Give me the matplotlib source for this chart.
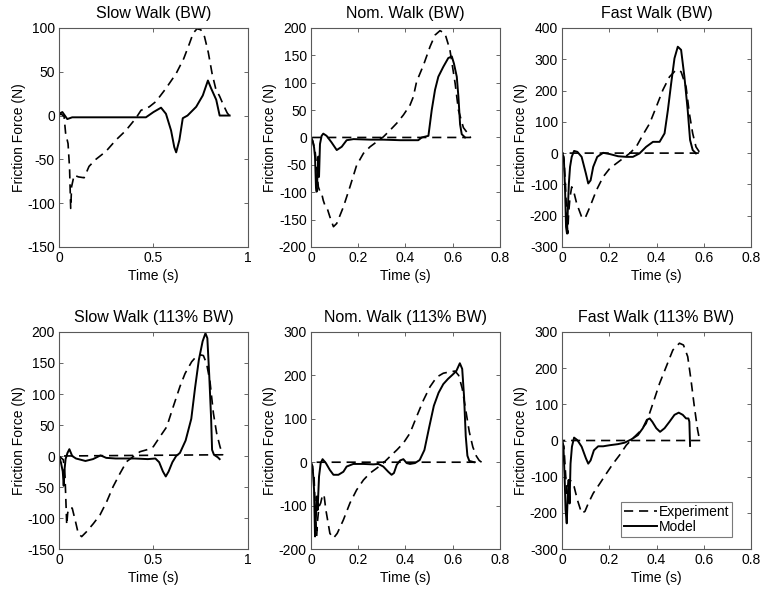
import numpy as np
import matplotlib.pyplot as plt
from matplotlib.ticker import FormatStrFormatter

plt.rcParams['font.family'] = ['Liberation Sans', 'DejaVu Sans']
plt.rcParams['font.size'] = 10

# ------------------------------------------------------------------------------
# Data (time in s, friction force in N)
# ------------------------------------------------------------------------------

# Slow Walk (BW)
slow_bw_exp_t = [0.0, 0.01, 0.027, 0.035, 0.048, 0.056, 0.062, 0.067, 0.08, 0.103, 0.133, 0.159,
                 0.195, 0.248, 0.301, 0.354, 0.407, 0.434, 0.478, 0.513, 0.566, 0.62, 0.66, 0.69,
                 0.71, 0.73, 0.75, 0.77, 0.79, 0.81, 0.83, 0.85, 0.87, 0.89, 0.905]
slow_bw_exp_f = [0, 2, -1, -20, -32, -60, -106, -81, -68, -70, -71, -58,
                 -50, -41, -28, -17, -3, 6, 10, 16, 31, 48, 65, 82,
                 94, 99, 98, 90, 72, 48, 30, 22, 12, 3, -1]
slow_bw_mod_t = [0.0, 0.018, 0.044, 0.07, 0.2, 0.3, 0.46, 0.5, 0.54, 0.566, 0.593, 0.61, 0.62,
                 0.637, 0.655, 0.68, 0.726, 0.761, 0.788, 0.805, 0.832, 0.85, 0.885, 0.903]
slow_bw_mod_f = [2, 4, -4, -2, -2, -2, -2, 4, 9, 2, -17, -36, -42,
                 -28, -3, 0, 10, 23, 40, 31, 18, 0, 0, 0]

# Nom. Walk (BW)
nom_bw_exp_t = [0.0, 0.008, 0.017, 0.024, 0.031, 0.038, 0.045, 0.052, 0.059, 0.069, 0.08, 0.095,
                0.109, 0.137, 0.165, 0.193, 0.222, 0.25, 0.278, 0.306, 0.334, 0.363, 0.391, 0.419,
                0.433, 0.447, 0.476, 0.504, 0.525, 0.546, 0.567, 0.588, 0.61, 0.624, 0.645, 0.666,
                0.675, 0.0]
nom_bw_exp_f = [0, -8, -23, -54, -90, -99, -102, -115, -124, -130, -145, -163,
                -157, -127, -90, -51, -29, -17, -8, 1, 13, 26, 41, 59,
                74, 102, 132, 166, 187, 195, 190, 160, 99, 50, 18, 6,
                0, 0]
nom_bw_mod_t = [0.0, 0.007, 0.013, 0.017, 0.021, 0.024, 0.028, 0.031, 0.034, 0.038, 0.045, 0.052,
                0.066, 0.087, 0.109, 0.13, 0.151, 0.18, 0.25, 0.306, 0.377, 0.419, 0.454, 0.469,
                0.497, 0.511, 0.525, 0.539, 0.56, 0.581, 0.596, 0.605, 0.617, 0.624, 0.631, 0.638,
                0.652]
nom_bw_mod_f = [0, -6, -18, -35, -90, -99, -66, -35, -72, -12, 3, 7,
                3, -9, -23, -17, -5, -3, -4, -4, -5, -5, -5, 0,
                3, 50, 87, 111, 129, 145, 148, 135, 111, 74, 24, 6,
                0]

# Fast Walk (BW)
fast_bw_exp_t = [0.0, 0.008, 0.015, 0.02, 0.024, 0.028, 0.034, 0.041, 0.048, 0.062, 0.083, 0.097,
                 0.118, 0.146, 0.174, 0.202, 0.23, 0.258, 0.286, 0.314, 0.342, 0.371, 0.399, 0.427,
                 0.455, 0.483, 0.504, 0.525, 0.539, 0.553, 0.567, 0.581, 0.592, 0.0]
fast_bw_exp_f = [0, -12, -108, -204, -257, -193, -140, -108, -118, -161, -204, -209,
                 -172, -118, -76, -49, -33, -17, -1, 20, 58, 95, 148, 202,
                 244, 266, 260, 212, 127, 63, 20, 4, 0, 0]
fast_bw_mod_t = [0.0, 0.008, 0.013, 0.017, 0.021, 0.025, 0.029, 0.034, 0.041, 0.051, 0.065, 0.083,
                 0.101, 0.111, 0.121, 0.132, 0.149, 0.174, 0.202, 0.237, 0.272, 0.3, 0.328, 0.356,
                 0.385, 0.413, 0.434, 0.448, 0.462, 0.476, 0.49, 0.504, 0.518, 0.532, 0.542, 0.553,
                 0.567]
fast_bw_mod_f = [0, -22, -119, -236, -257, -172, -97, -44, -12, 7, 4, -12,
                 -65, -97, -87, -44, -12, 1, -3, -10, -12, -12, -1, 20,
                 36, 36, 63, 137, 223, 303, 340, 330, 244, 137, 42, 10,
                 -1]

# Slow Walk (113% BW)
slow_113_exp_t = [0.0, 0.023, 0.032, 0.037, 0.041, 0.046, 0.053, 0.07, 0.09, 0.102, 0.12, 0.146,
                  0.182, 0.217, 0.252, 0.287, 0.323, 0.358, 0.393, 0.429, 0.464, 0.499, 0.534, 0.57,
                  0.605, 0.64, 0.667, 0.702, 0.725, 0.75, 0.764, 0.781, 0.799, 0.817, 0.834, 0.852,
                  0.866, 0.0]
slow_113_exp_f = [0, -6, -33, -76, -111, -92, -84, -84, -109, -125, -130, -122,
                  -109, -95, -74, -49, -28, -9, -1, 7, 10, 15, 31, 47,
                  80, 112, 133, 152, 160, 163, 162, 149, 120, 69, 37, 15,
                  2, 0]
slow_113_mod_t = [0.0, 0.01, 0.02, 0.025, 0.03, 0.035, 0.045, 0.055, 0.07, 0.09, 0.14, 0.18,
                  0.22, 0.25, 0.3, 0.4, 0.47, 0.51, 0.53, 0.55, 0.565, 0.58, 0.6, 0.62,
                  0.64, 0.67, 0.7, 0.72, 0.74, 0.76, 0.775, 0.785, 0.795, 0.805, 0.81, 0.82,
                  0.84, 0.85]
slow_113_mod_f = [0, -10, -25, -48, -20, -5, 5, 11, 0, -4, -8, -5,
                  1, -3, -4, -4, -5, -4, -10, -25, -33, -25, -10, 0,
                  5, 25, 60, 110, 155, 185, 198, 190, 130, 60, 10, 2,
                  -2, -5]

# Nom. Walk (113% BW)
nom_113_exp_t = [0.0, 0.013, 0.018, 0.024, 0.028, 0.034, 0.041, 0.049, 0.055, 0.063, 0.08, 0.095,
                 0.111, 0.137, 0.165, 0.193, 0.222, 0.25, 0.278, 0.306, 0.334, 0.363, 0.391, 0.419,
                 0.447, 0.476, 0.504, 0.532, 0.56, 0.586, 0.61, 0.625, 0.64, 0.655, 0.67, 0.685,
                 0.7, 0.712, 0.722, 0.0]
nom_113_exp_f = [0, -33, -110, -171, -133, -102, -94, -75, -75, -110, -164, -175,
                 -164, -133, -94, -64, -41, -25, -14, -2, 13, 28, 44, 67,
                 105, 143, 174, 196, 205, 208, 210, 200, 170, 120, 70, 35,
                 14, 4, 0, 0]
nom_113_mod_t = [0.0, 0.007, 0.013, 0.017, 0.021, 0.024, 0.028, 0.034, 0.041, 0.049, 0.063, 0.08,
                 0.095, 0.116, 0.137, 0.151, 0.179, 0.222, 0.264, 0.285, 0.306, 0.327, 0.341, 0.351,
                 0.363, 0.377, 0.391, 0.405, 0.419, 0.44, 0.46, 0.48, 0.5, 0.52, 0.54, 0.56,
                 0.58, 0.6, 0.615, 0.63, 0.64, 0.648, 0.655, 0.662, 0.67, 0.69]
nom_113_mod_f = [0, -10, -64, -171, -125, -79, -110, -33, -2, 7, -2, -18,
                 -29, -29, -22, -10, -4, -4, -5, -4, -10, -22, -29, -25,
                 -6, 4, 7, -2, -4, -2, 5, 28, 80, 130, 160, 180,
                 192, 202, 210, 228, 215, 150, 60, 15, 3, 0]

# Fast Walk (113% BW)
fast_113_exp_t = [0.0, 0.008, 0.014, 0.02, 0.024, 0.031, 0.041, 0.051, 0.065, 0.083, 0.097, 0.111,
                  0.132, 0.16, 0.188, 0.216, 0.244, 0.272, 0.3, 0.328, 0.356, 0.385, 0.413, 0.441,
                  0.469, 0.497, 0.514, 0.532, 0.546, 0.56, 0.574, 0.581, 0.588, 0.0]
fast_113_exp_f = [0, -17, -81, -146, -127, -109, -113, -127, -164, -201, -196, -174,
                  -146, -119, -91, -64, -40, -13, 6, 24, 47, 103, 158, 204,
                  250, 269, 264, 232, 167, 94, 29, 6, 0, 0]
fast_113_mod_t = [0.0, 0.006, 0.011, 0.015, 0.02, 0.024, 0.028, 0.032, 0.036, 0.042, 0.051, 0.065,
                  0.083, 0.101, 0.111, 0.121, 0.135, 0.153, 0.174, 0.202, 0.237, 0.265, 0.293, 0.321,
                  0.342, 0.359, 0.371, 0.382, 0.399, 0.415, 0.434, 0.455, 0.476, 0.494, 0.511, 0.525,
                  0.535, 0.539, 0.542]
fast_113_mod_f = [0, -17, -100, -192, -229, -155, -109, -174, -64, -17, 8, 1,
                  -17, -49, -64, -55, -27, -16, -16, -13, -10, -6, 3, 15,
                  34, 57, 61, 52, 34, 24, 34, 52, 71, 77, 71, 61,
                  61, 52, -15]

titles = ['Slow Walk (BW)', 'Nom. Walk (BW)', 'Fast Walk (BW)',
          'Slow Walk (113% BW)', 'Nom. Walk (113% BW)', 'Fast Walk (113% BW)']
exp_series = [(slow_bw_exp_t, slow_bw_exp_f), (nom_bw_exp_t, nom_bw_exp_f), (fast_bw_exp_t, fast_bw_exp_f),
              (slow_113_exp_t, slow_113_exp_f), (nom_113_exp_t, nom_113_exp_f), (fast_113_exp_t, fast_113_exp_f)]
mod_series = [(slow_bw_mod_t, slow_bw_mod_f), (nom_bw_mod_t, nom_bw_mod_f), (fast_bw_mod_t, fast_bw_mod_f),
              (slow_113_mod_t, slow_113_mod_f), (nom_113_mod_t, nom_113_mod_f), (fast_113_mod_t, fast_113_mod_f)]
x_ticks = [[0, 0.5, 1], [0, 0.2, 0.4, 0.6, 0.8], [0, 0.2, 0.4, 0.6, 0.8],
           [0, 0.5, 1], [0, 0.2, 0.4, 0.6, 0.8], [0, 0.2, 0.4, 0.6, 0.8]]
y_ticks = [np.arange(-150, 101, 50), np.arange(-200, 201, 50), np.arange(-300, 401, 100),
           np.arange(-150, 201, 50), np.arange(-200, 301, 100), np.arange(-300, 301, 100)]

# ------------------------------------------------------------------------------
# Layout (matlab-style 2x3 grid)
# ------------------------------------------------------------------------------
fig = plt.figure(figsize=(7.6, 5.92), dpi=100)
lefts = [0.0776, 0.4092, 0.7395]
bottoms = [0.5828, 0.0726]
heights = [0.370, 0.3666]
width = 0.2487

dash = (0, (5.5, 3.5))
for k in range(6):
    r, c = divmod(k, 3)
    ax = fig.add_axes([lefts[c], bottoms[r], width, heights[r]])
    et, ef = exp_series[k]
    mt, mf = mod_series[k]
    ax.plot(et, ef, color='k', lw=1.2, linestyle=dash, label='Experiment')
    ax.plot(mt, mf, color='k', lw=1.4, label='Model')
    ax.set_xlim(x_ticks[k][0], x_ticks[k][-1])
    ax.set_ylim(y_ticks[k][0], y_ticks[k][-1])
    ax.set_xticks(x_ticks[k])
    ax.set_yticks(y_ticks[k])
    ax.xaxis.set_major_formatter(FormatStrFormatter('%g'))
    ax.yaxis.set_major_formatter(FormatStrFormatter('%g'))
    ax.tick_params(direction='in', top=True, right=True, length=3, width=0.6,
                   color='0.3', labelsize=10, pad=3)
    for s in ax.spines.values():
        s.set_color('0.35')
        s.set_linewidth(0.8)
    ax.set_title(titles[k], fontsize=11.5, pad=7)
    ax.set_xlabel('Time (s)', fontsize=10, labelpad=3)
    ax.set_ylabel('Friction Force (N)', fontsize=10, labelpad=1)
    if k == 5:
        leg = ax.legend(loc='lower right', bbox_to_anchor=(0.9, 0.055), fontsize=10,
                        frameon=True, fancybox=False, handlelength=2.4, handletextpad=0.1,
                        borderpad=0.2, labelspacing=0.1, borderaxespad=0.0)
        leg.get_frame().set_edgecolor('0.35')
        leg.get_frame().set_linewidth(0.8)

fig.savefig('out.png', dpi=100)
